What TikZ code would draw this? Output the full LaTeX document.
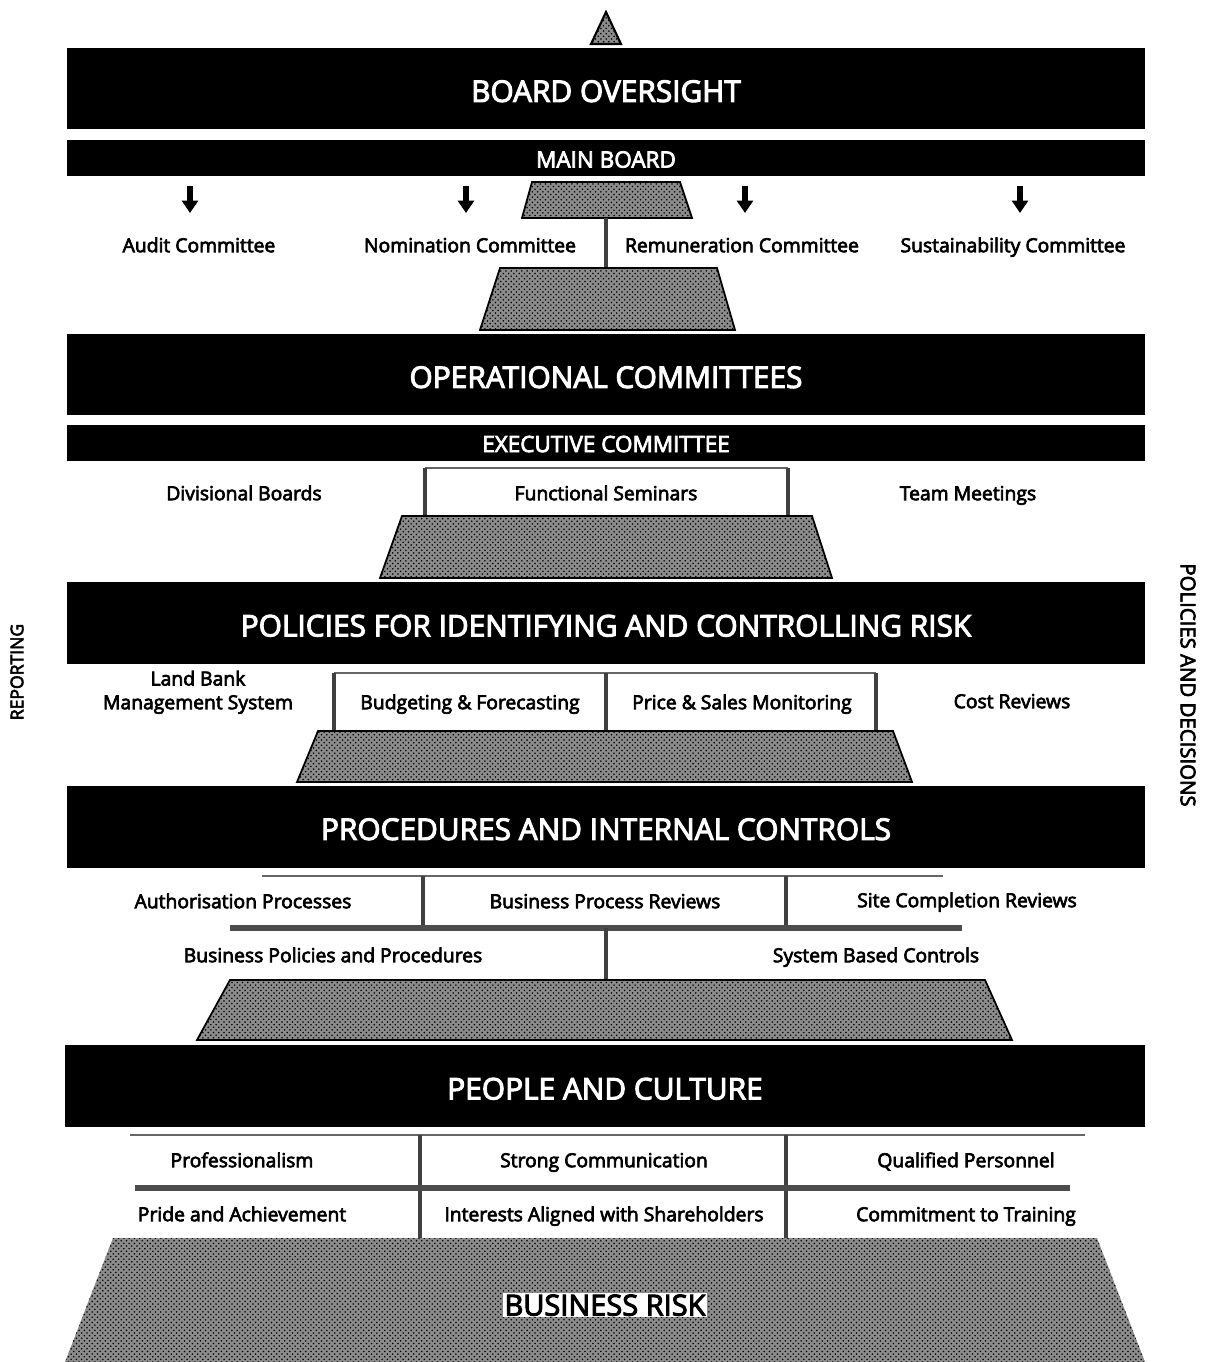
\documentclass[tikz,border=0pt]{standalone}
\usepackage{fontspec}
\setmainfont{Open Sans}
\newfontfamily\semib{Open Sans}[RawFeature={embolden=3.5}]
\usetikzlibrary{patterns,arrows.meta,calc}

\tikzset{
  bar/.style={fill=black, text=white, minimum width=21.56cm, inner sep=0pt, text depth=0pt},
  bigbar/.style={bar, minimum height=1.64cm, text height=15.3pt,
    font=\semib\fontsize{17}{19}\selectfont},
  thinbar/.style={bar, minimum height=0.72cm, text height=10.9pt,
    font=\semib\fontsize{12.8}{14}\selectfont},
  lbl/.style={font=\semib\fontsize{11}{13.5}\selectfont, align=center, inner sep=1pt,
    text height=8.2pt, text depth=0pt},
  sidetext/.style={font=\semib\fontsize{10}{12}\selectfont},
  stipple/.style={draw=black, line width=1pt, preaction={fill=black!45},
    pattern=crosshatch dots, pattern color=black},
  post/.style={draw=black!75, line width=2.4pt},
  band/.style={draw=black!70, line width=3pt},
  rim/.style={draw=black!60, line width=0.7pt},
  darrow/.style={-{Triangle[length=7pt,width=9pt]}, line width=3.2pt},
}

\begin{document}
\begin{tikzpicture}[x=0.02cm, y=-0.02cm]
  \useasboundingbox (0,0) rectangle (1207,1362);

  % tip of the pyramid
  \path[stipple, line width=1.2pt] (606,12) -- (621,44) -- (591,44) -- cycle;

  % board level
  \node[bigbar] (board) at (606,88.5) {BOARD OVERSIGHT};
  \node[thinbar] (mainb) at (606,158) {MAIN BOARD};
  \foreach \x/\a/\n/\t in {199/190/audit/Audit Committee,
      470/466/nomin/Nomination Committee,
      742/745/remun/Remuneration Committee,
      1013/1020/sust/Sustainability Committee}{
    \node[lbl] (\n) at (\x,245) {\t};
    \draw[darrow] (\a,186) -- (\a,213);
  }
  \path[stipple] (532,182) -- (680,182) -- (692,218) -- (522,218) -- cycle;
  \draw[post] (606,218) -- (606,268);
  \path[stipple] (500,268) -- (717,268) -- (735,330) -- (480,330) -- cycle;

  % operational committees
  \node[bigbar] (opcom) at (606,374.5) {OPERATIONAL COMMITTEES};
  \node[thinbar] (exec) at (606,442.5) {EXECUTIVE COMMITTEE};
  \node[lbl] (divb) at (244,493) {Divisional Boards};
  \node[lbl] (funcs) at (606,493) {Functional Seminars};
  \node[lbl] (team) at (968,493) {Team Meetings};
  \draw[rim] (425,468) -- (788,468);
  \draw[post] (425,468) -- (425,516);
  \draw[post] (788,468) -- (788,516);
  \path[stipple] (402,516) -- (812,516) -- (832,578) -- (380,578) -- cycle;

  % policies
  \node[bigbar] (policy) at (606,623) {POLICIES FOR IDENTIFYING AND CONTROLLING RISK};
  \node[lbl] (landb) at (198,702) {Land Bank\\Management System};
  \node[lbl] (budget) at (470,702) {Budgeting \& Forecasting};
  \node[lbl] (price) at (742,702) {Price \& Sales Monitoring};
  \node[lbl] (costr) at (1012,701) {Cost Reviews};
  \draw[rim] (334,673) -- (876,673);
  \foreach \x in {334,606,876}
    \draw[post] (\x,673) -- (\x,731);
  \path[stipple] (318,731) -- (893,731) -- (912,782) -- (297,782) -- cycle;

  % procedures
  \node[bigbar] (proc) at (606,826.5) {PROCEDURES AND INTERNAL CONTROLS};
  \node[lbl] (auth) at (243,901) {Authorisation Processes};
  \node[lbl] (bproc) at (605,901) {Business Process Reviews};
  \node[lbl] (sitec) at (967,900) {Site Completion Reviews};
  \node[lbl] (bpol) at (333,955) {Business Policies and Procedures};
  \node[lbl] (sysb) at (876,955) {System Based Controls};
  \draw[rim] (262,876) -- (943,876);
  \draw[post] (423,876) -- (423,928);
  \draw[post] (786,876) -- (786,928);
  \draw[band] (230,928) -- (962,928);
  \draw[post] (606,928) -- (606,980);
  \path[stipple] (230,980) -- (985,980) -- (1012,1040) -- (197,1040) -- cycle;

  % people
  \node[bigbar, minimum width=21.6cm] (people) at (605,1086) {PEOPLE AND CULTURE};
  \node[lbl] (prof) at (242,1160) {Professionalism};
  \node[lbl] (strong) at (604,1160) {Strong Communication};
  \node[lbl] (qual) at (966,1160) {Qualified Personnel};
  \node[lbl] (pride) at (242,1214) {Pride and Achievement};
  \node[lbl] (inter) at (604,1214) {Interests Aligned with Shareholders};
  \node[lbl] (commit) at (966,1214) {Commitment to Training};
  \draw[rim] (130,1135) -- (1085,1135);
  \draw[post] (420,1135) -- (420,1240);
  \draw[post] (786,1135) -- (786,1240);
  \draw[band] (135,1188) -- (1070,1188);

  % base of the pyramid
  \path[stipple, draw=none] (113,1238) -- (1097,1238) -- (1145,1362) -- (65,1362) -- cycle;
  \node[lbl, font=\semib\fontsize{16.5}{18}\selectfont, text height=12pt, fill=white] (brisk) at (605,1305) {BUSINESS RISK};

  % side captions
  \node[sidetext, rotate=90] (report) at (17,672) {REPORTING};
  \node[sidetext, font=\semib\fontsize{11.6}{13}\selectfont, rotate=-90] (poldec) at (1188,685) {POLICIES AND DECISIONS};
\end{tikzpicture}
\end{document}
